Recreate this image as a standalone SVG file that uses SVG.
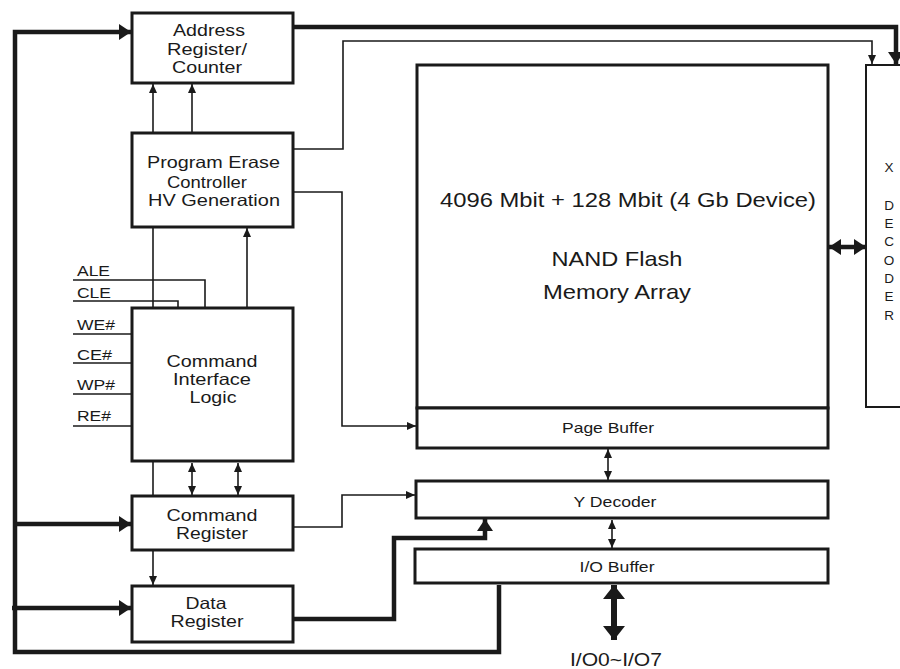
<svg xmlns="http://www.w3.org/2000/svg" width="900" height="669" viewBox="0 0 900 669">
<style>
.box{fill:#fff;stroke:#1a1a1a;stroke-width:3}
.thin{fill:none;stroke:#1a1a1a;stroke-width:1.6}
.thick{fill:none;stroke:#1a1a1a;stroke-width:4.5}
text{font-family:"Liberation Sans",Arial,sans-serif;fill:#1a1a1a}
.lbl{font-size:16.5px;text-anchor:middle}
.sig{font-size:15.5px}
.big{font-size:21px;text-anchor:middle}
.sm{font-size:14.5px;text-anchor:middle}
.xd{font-size:13.5px;text-anchor:middle}
</style>
<defs>
<marker id="a" markerUnits="userSpaceOnUse" markerWidth="9" markerHeight="8" refX="9" refY="4" orient="auto-start-reverse"><path d="M0,0 L9,4 L0,8 z" fill="#1a1a1a"/></marker>
<marker id="A" markerUnits="userSpaceOnUse" markerWidth="12" markerHeight="16" refX="12" refY="8" orient="auto-start-reverse"><path d="M0,0 L12,8 L0,16 z" fill="#1a1a1a"/></marker>
<marker id="B" markerUnits="userSpaceOnUse" markerWidth="14" markerHeight="22" refX="14" refY="11" orient="auto-start-reverse"><path d="M0,0 L14,11 L0,22 z" fill="#1a1a1a"/></marker>
</defs>

<g id="connectors">
<path class="thick" d="M499,585 V652 H15 V32 H131" marker-end="url(#A)"/>
<path class="thick" d="M15,524 H131" marker-end="url(#A)"/>
<path class="thick" d="M12,608 H131" marker-end="url(#A)"/>
<path class="thick" d="M293,27 H896 V64" marker-end="url(#A)"/>
<path class="thin" d="M293,149 H343 V41 H872 V64" marker-end="url(#a)"/>
<path class="thin" d="M293,192 H342 V426 H416" marker-end="url(#a)"/>
<path class="thin" d="M153,133 V84" marker-end="url(#a)"/>
<path class="thin" d="M192,133 V84" marker-end="url(#a)"/>
<path class="thin" d="M247,308 V228" marker-end="url(#a)"/>
<path class="thin" d="M153,227 V308"/>
<path class="thin" d="M73,280 H205 V308"/>
<path class="thin" d="M73,301 H178 V308"/>
<path class="thin" d="M73,334 H131"/>
<path class="thin" d="M73,363 H131"/>
<path class="thin" d="M73,394 H131"/>
<path class="thin" d="M73,426 H131"/>
<path class="thin" d="M153,461 V496"/>
<path class="thin" d="M192,463 V495" marker-start="url(#a)" marker-end="url(#a)"/>
<path class="thin" d="M238,463 V495" marker-start="url(#a)" marker-end="url(#a)"/>
<path class="thin" d="M153,550 V585" marker-end="url(#a)"/>
<path class="thin" d="M293,527 H342 V495 H415" marker-end="url(#a)"/>
<path class="thick" d="M293,619 H394 V538 H485 V519" marker-end="url(#A)"/>
<path class="thin" d="M608,449 V480" marker-start="url(#a)" marker-end="url(#a)"/>
<path class="thin" d="M612,520 V548" marker-start="url(#a)" marker-end="url(#a)"/>
<path class="thick" d="M614,585 V640" style="stroke-width:6" marker-start="url(#B)" marker-end="url(#B)"/>
<path class="thick" d="M829,247 H866" marker-start="url(#A)" marker-end="url(#A)"/>
</g>

<g id="address-register">
<rect class="box" x="132" y="13" width="161" height="70"/>
<text class="lbl" x="209" y="36" textLength="72" lengthAdjust="spacingAndGlyphs">Address</text>
<text class="lbl" x="207" y="55" textLength="80" lengthAdjust="spacingAndGlyphs">Register/</text>
<text class="lbl" x="207" y="73" textLength="70" lengthAdjust="spacingAndGlyphs">Counter</text>
</g>

<g id="program-erase-controller">
<rect class="box" x="132" y="133" width="161" height="94"/>
<text class="lbl" x="213.5" y="168" textLength="133" lengthAdjust="spacingAndGlyphs">Program Erase</text>
<text class="lbl" x="207" y="188" textLength="80" lengthAdjust="spacingAndGlyphs">Controller</text>
<text class="lbl" x="214" y="206" textLength="132" lengthAdjust="spacingAndGlyphs">HV Generation</text>
</g>

<g id="signals">
<text class="sig" x="77" y="276" textLength="33" lengthAdjust="spacingAndGlyphs">ALE</text>
<text class="sig" x="77" y="298" textLength="34" lengthAdjust="spacingAndGlyphs">CLE</text>
<text class="sig" x="77" y="330" textLength="38" lengthAdjust="spacingAndGlyphs">WE#</text>
<text class="sig" x="77" y="360" textLength="35" lengthAdjust="spacingAndGlyphs">CE#</text>
<text class="sig" x="77" y="390" textLength="38" lengthAdjust="spacingAndGlyphs">WP#</text>
<text class="sig" x="77" y="421" textLength="34" lengthAdjust="spacingAndGlyphs">RE#</text>
</g>

<g id="command-interface-logic">
<rect class="box" x="132" y="308" width="161" height="153"/>
<text class="lbl" x="212" y="367" textLength="91" lengthAdjust="spacingAndGlyphs">Command</text>
<text class="lbl" x="212" y="385" textLength="78" lengthAdjust="spacingAndGlyphs">Interface</text>
<text class="lbl" x="213" y="403" textLength="47" lengthAdjust="spacingAndGlyphs">Logic</text>
</g>

<g id="command-register">
<rect class="box" x="132" y="496" width="161" height="54"/>
<text class="lbl" x="212" y="521" textLength="91" lengthAdjust="spacingAndGlyphs">Command</text>
<text class="lbl" x="212" y="539" textLength="72" lengthAdjust="spacingAndGlyphs">Register</text>
</g>

<g id="data-register">
<rect class="box" x="132" y="586" width="161" height="56"/>
<text class="lbl" x="206" y="609" textLength="41" lengthAdjust="spacingAndGlyphs">Data</text>
<text class="lbl" x="207" y="627" textLength="73" lengthAdjust="spacingAndGlyphs">Register</text>
</g>

<g id="memory-array">
<rect class="box" x="417" y="65" width="411" height="343"/>
<text class="big" x="628" y="207" textLength="376" lengthAdjust="spacingAndGlyphs">4096 Mbit + 128 Mbit (4 Gb Device)</text>
<text class="big" x="617" y="266" textLength="131" lengthAdjust="spacingAndGlyphs">NAND Flash</text>
<text class="big" x="617" y="299" textLength="148" lengthAdjust="spacingAndGlyphs">Memory Array</text>
</g>

<g id="page-buffer">
<rect class="box" x="417" y="408" width="411" height="40"/>
<text class="sm" x="608" y="433" textLength="92" lengthAdjust="spacingAndGlyphs">Page Buffer</text>
</g>

<g id="y-decoder">
<rect class="box" x="416" y="481" width="412" height="37"/>
<text class="sm" x="615" y="507" textLength="83" lengthAdjust="spacingAndGlyphs">Y Decoder</text>
</g>

<g id="io-buffer">
<rect class="box" x="415" y="549" width="413" height="34"/>
<text class="sm" x="617" y="572" textLength="75" lengthAdjust="spacingAndGlyphs">I/O Buffer</text>
</g>

<g id="io-pins">
<text class="big" x="616" y="666" style="font-size:19px" textLength="92" lengthAdjust="spacingAndGlyphs">I/O0~I/O7</text>
</g>

<g id="x-decoder">
<rect x="866" y="65" width="40" height="342" fill="#fff" stroke="#1a1a1a" stroke-width="2"/>
<text class="xd" x="889" y="172">X</text>
<text class="xd" x="889" y="210">D</text>
<text class="xd" x="889" y="228">E</text>
<text class="xd" x="889" y="246">C</text>
<text class="xd" x="889" y="265">O</text>
<text class="xd" x="889" y="283">D</text>
<text class="xd" x="889" y="301">E</text>
<text class="xd" x="889" y="320">R</text>
</g>
</svg>
